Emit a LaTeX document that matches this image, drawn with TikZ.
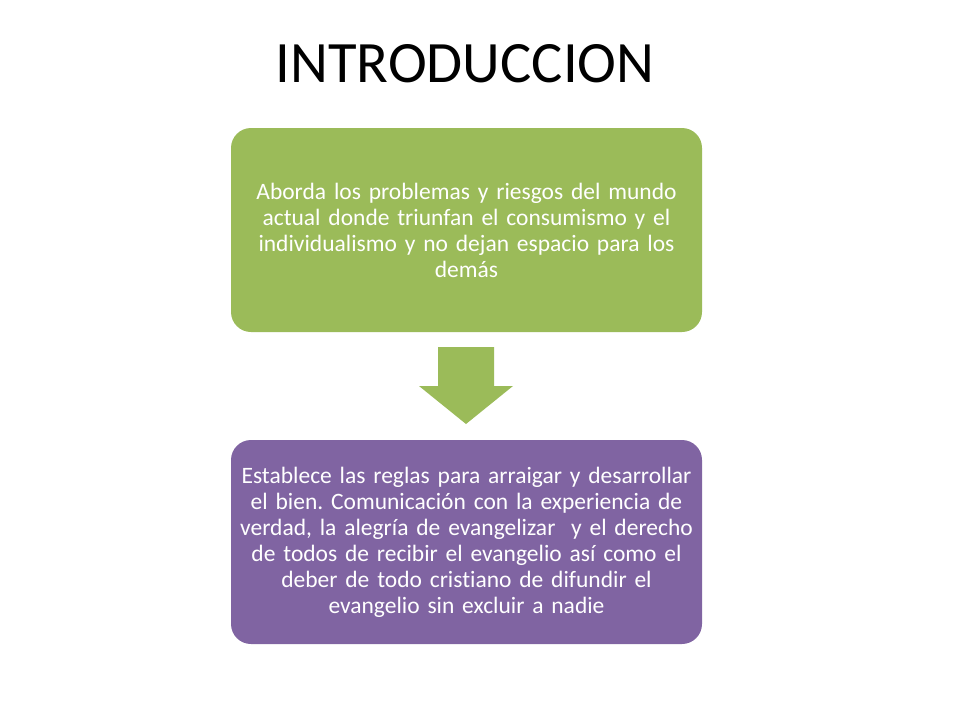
\documentclass[tikz,border=0pt]{standalone}
\usepackage{fontspec}
\setmainfont{Carlito}[RawFeature=-liga, WordSpace=0.8]
\definecolor{boxgreen}{HTML}{9BBB59}
\definecolor{boxpurple}{HTML}{8064A2}
\frenchspacing
\begin{document}
\begin{tikzpicture}[x=1pt,y=-1pt,
  stepbox/.style={rounded corners=20pt, minimum width=471pt, minimum height=204pt, inner sep=0pt,
    text width=470pt, align=center, text=white, font=\fontsize{23.5}{26}\selectfont},
  title/.style={font=\fontsize{58.6}{66}\selectfont, inner sep=0pt, anchor=base}]
\useasboundingbox (0,0) rectangle (960,720);
\node[title] (t) at (465,82) {INTRODUCCION};
\node[stepbox, fill=boxgreen] (a) at (466.5,230) {Aborda los problemas y riesgos del mundo\\ actual donde triunfan el consumismo y el\\ individualismo y no dejan espacio para los\\ demás};
\node[stepbox, fill=boxpurple] (b) at (466.5,542) {Establece las reglas para arraigar y desarrollar\\ el bien. Comunicación con la experiencia de\\ verdad, la alegría de evangelizar \ y el derecho\\ de todos de recibir el evangelio así como el\\ deber de todo cristiano de difundir el\\ evangelio sin excluir a nadie};
\fill[boxgreen] (438,347) -- (494,347) -- (494,386) -- (513,386) -- (466,424) -- (419,386) -- (438,386) -- cycle;
\end{tikzpicture}
\end{document}
